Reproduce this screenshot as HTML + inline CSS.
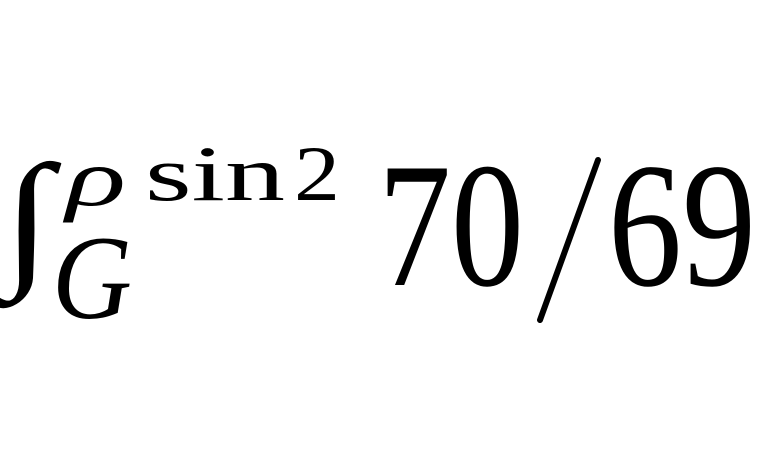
<!DOCTYPE html>
<html>
<head>
<meta charset="utf-8">
<style>
  html,body{margin:0;padding:0;background:#fff;}
  svg{display:block;}
  text{font-family:"Liberation Serif","DejaVu Serif",serif;fill:#000;}
</style>
</head>
<body>
<svg width="765" height="450" viewBox="0 0 765 450">
  <text x="2" y="268" font-size="150" font-style="italic" textLength="50" lengthAdjust="spacingAndGlyphs">∫</text>
  <text x="66" y="205" font-size="82" font-style="italic" textLength="60" lengthAdjust="spacingAndGlyphs">ρ</text>
  <text x="145" y="200" font-size="78" textLength="140" lengthAdjust="spacingAndGlyphs">sin</text>
  <text x="294" y="200" font-size="78" textLength="46" lengthAdjust="spacingAndGlyphs">2</text>
  <text x="52" y="318" font-size="120" font-style="italic" textLength="80" lengthAdjust="spacingAndGlyphs">G</text>
  <text x="378" y="285" font-size="178" textLength="146" lengthAdjust="spacingAndGlyphs">70</text>
  <line x1="540" y1="320" x2="598" y2="160" stroke="#000" stroke-width="6" stroke-linecap="round"/>
  <text x="608" y="285" font-size="178" textLength="148" lengthAdjust="spacingAndGlyphs">69</text>
</svg>
</body>
</html>
